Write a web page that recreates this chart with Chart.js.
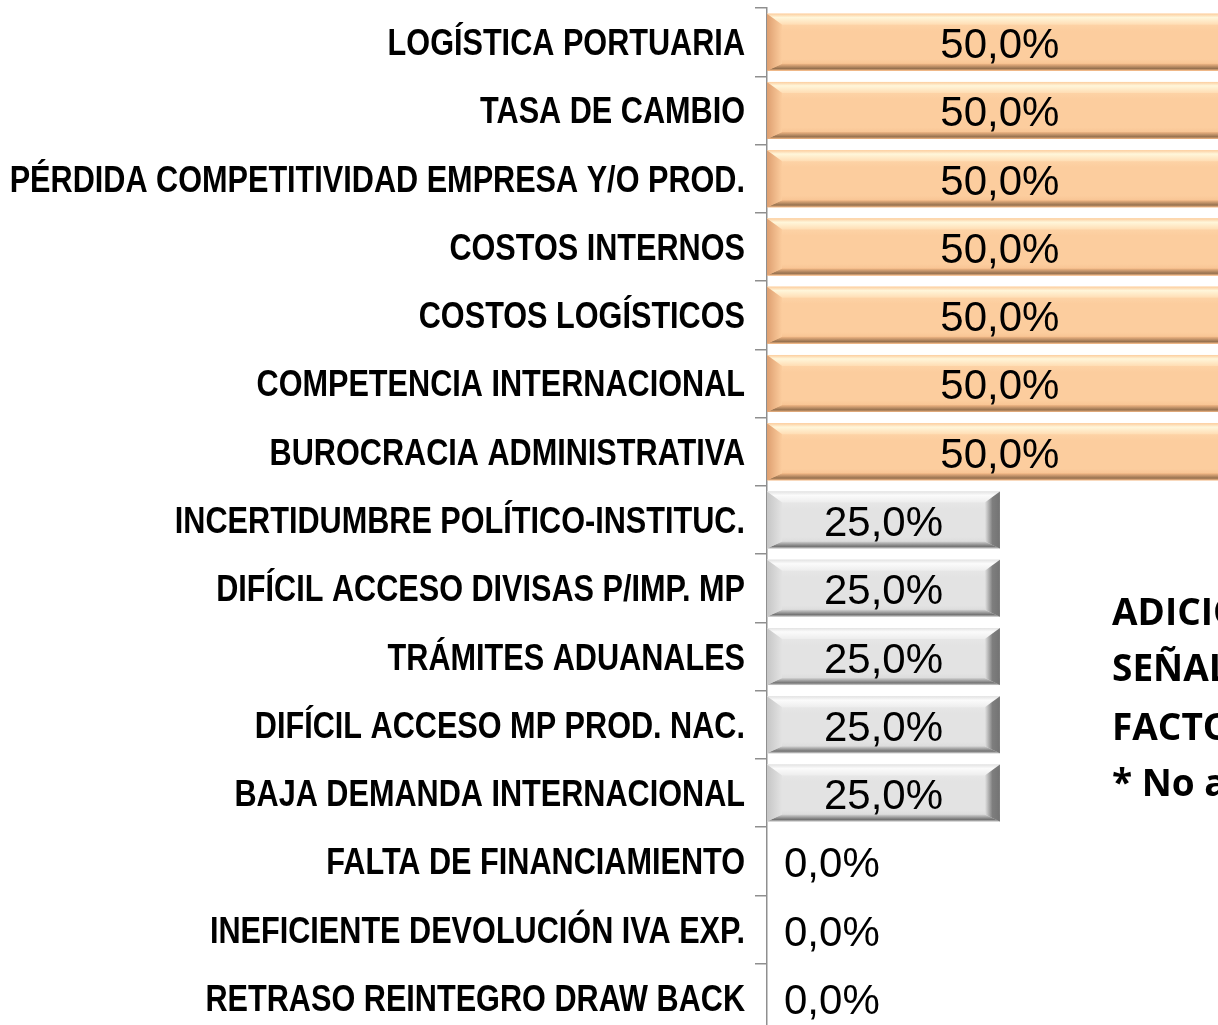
<!DOCTYPE html>
<html lang="es">
<head>
<meta charset="utf-8">
<title>Factores</title>
<script src="https://cdn.jsdelivr.net/npm/chart.js@4.4.1/dist/chart.umd.min.js"></script>
<style>
  html, body { margin: 0; padding: 0; background: #fff; overflow: hidden; width: 1218px; height: 1025px; }
  canvas { display: block; }
</style>
</head>
<body>
<canvas id="chart" width="1326" height="1040"></canvas>
<script>
// datos (de arriba hacia abajo)
const factores = [
  'LOGÍSTICA PORTUARIA',
  'TASA DE CAMBIO',
  'PÉRDIDA COMPETITIVIDAD EMPRESA Y/O PROD.',
  'COSTOS INTERNOS',
  'COSTOS LOGÍSTICOS',
  'COMPETENCIA INTERNACIONAL',
  'BUROCRACIA ADMINISTRATIVA',
  'INCERTIDUMBRE POLÍTICO-INSTITUC.',
  'DIFÍCIL ACCESO DIVISAS P/IMP. MP',
  'TRÁMITES ADUANALES',
  'DIFÍCIL ACCESO MP PROD. NAC.',
  'BAJA DEMANDA INTERNACIONAL',
  'FALTA DE FINANCIAMIENTO',
  'INEFICIENTE DEVOLUCIÓN IVA EXP.',
  'RETRASO REINTEGRO DRAW BACK'
];
const porcentajes = [50, 50, 50, 50, 50, 50, 50, 25, 25, 25, 25, 25, 0, 0, 0];
const notaLineas = ['ADICIONALMENTE,', 'SEÑALARON OTROS', 'FACTORES', '* No aplica'];

const peach = { face: '#FCCD9E', faceTop: '#FFDDB4', hi: '#FFF6DA', low: '#F2B886', bottom: '#96714F', left: '#DE9F70', right: '#B8875E' };
const grey  = { face: '#E3E3E3', faceTop: '#EDEDED', hi: '#FBFBFB', low: '#D2D2D2', bottom: '#737373', left: '#C6C6C6', right: '#7E7E7E' };
const paleta = (v) => v >= 50 ? peach : grey;

function fmtPct(v) {
  return v.toFixed(1).replace('.', ',') + '%';
}

function poly(ctx, pts, fill) {
  ctx.beginPath();
  ctx.moveTo(pts[0][0], pts[0][1]);
  for (let i = 1; i < pts.length; i++) ctx.lineTo(pts[i][0], pts[i][1]);
  ctx.closePath();
  ctx.fillStyle = fill;
  ctx.fill();
}

// bisel tipo Excel sobre cada barra
const bevelPlugin = {
  id: 'bevel',
  afterDatasetsDraw(chart) {
    const ctx = chart.ctx;
    const area = chart.chartArea;
    const meta = chart.getDatasetMeta(0);
    ctx.save();
    ctx.beginPath();
    ctx.rect(area.left, area.top, area.right - area.left, area.bottom - area.top);
    ctx.clip();
    meta.data.forEach((bar, i) => {
      const v = porcentajes[i];
      if (!v) return;
      const p = paleta(v);
      const L = Math.min(bar.base, bar.x), R = Math.max(bar.base, bar.x);
      const T = bar.y - bar.height / 2, B = bar.y + bar.height / 2;
      const bw = 15, bt = 11, bb = 7;

      let g = ctx.createLinearGradient(0, T, 0, B);
      g.addColorStop(0, p.faceTop);
      g.addColorStop(0.3, p.face);
      g.addColorStop(0.8, p.face);
      g.addColorStop(1, p.low);
      ctx.fillStyle = g;
      ctx.fillRect(L, T, R - L, B - T);

      g = ctx.createLinearGradient(0, T, 0, T + bt);
      g.addColorStop(0, p.face);
      g.addColorStop(0.35, p.hi);
      g.addColorStop(1, p.faceTop);
      poly(ctx, [[L, T], [R, T], [R - bw, T + bt], [L + bw, T + bt]], g);

      g = ctx.createLinearGradient(0, B - bb, 0, B);
      g.addColorStop(0, p.low);
      g.addColorStop(0.7, p.bottom);
      g.addColorStop(1, p.low);
      poly(ctx, [[L, B], [R, B], [R - bw, B - bb], [L + bw, B - bb]], g);

      g = ctx.createLinearGradient(L, 0, L + bw, 0);
      g.addColorStop(0, p.left);
      g.addColorStop(1, p.face);
      poly(ctx, [[L, T], [L + bw, T + bt], [L + bw, B - bb], [L, B]], g);

      g = ctx.createLinearGradient(R - bw, 0, R, 0);
      g.addColorStop(0, p.face);
      g.addColorStop(0.5, p.right);
      g.addColorStop(1, p.bottom);
      poly(ctx, [[R, T], [R - bw, T + bt], [R - bw, B - bb], [R, B]], g);
    });
    ctx.restore();
  }
};

// etiquetas de valor
const valueLabels = {
  id: 'valueLabels',
  afterDatasetsDraw(chart) {
    const ctx = chart.ctx;
    const meta = chart.getDatasetMeta(0);
    ctx.save();
    ctx.font = "42px 'Liberation Sans', Arial, sans-serif";
    ctx.fillStyle = '#000';
    ctx.textBaseline = 'alphabetic';
    meta.data.forEach((bar, i) => {
      const v = porcentajes[i];
      const txt = fmtPct(v);
      if (v > 0) {
        ctx.textAlign = 'center';
        ctx.fillText(txt, (bar.base + bar.x) / 2, bar.y + 16);
      } else {
        ctx.textAlign = 'left';
        ctx.fillText(txt, bar.base + 17, bar.y + 16);
      }
    });
    ctx.restore();
  }
};

// etiquetas de categoria en fuente estrecha (Arial Narrow simulada)
const catLabels = {
  id: 'catLabels',
  afterDraw(chart) {
    const ctx = chart.ctx;
    const y = chart.scales.y;
    ctx.save();
    ctx.font = "bold 37px 'Liberation Sans', Arial, sans-serif";
    ctx.fillStyle = '#000';
    ctx.textAlign = 'right';
    ctx.textBaseline = 'alphabetic';
    y.ticks.forEach((t, i) => {
      const py = y.getPixelForTick(i);
      ctx.save();
      ctx.translate(y.right - 22, py + 13);
      ctx.scale(0.828, 1);
      ctx.fillText(factores[t.value], 0, 0);
      ctx.restore();
    });
    ctx.restore();
  }
};

// cuadro de texto a la derecha
const notaPlugin = {
  id: 'nota',
  afterDraw(chart) {
    const ctx = chart.ctx;
    ctx.save();
    ctx.font = "bold 37px 'Open Sans', 'Noto Sans', sans-serif";
    ctx.fillStyle = '#000';
    ctx.textAlign = 'left';
    ctx.textBaseline = 'alphabetic';
    const ys = [625, 681, 740, 796];
    notaLineas.forEach((t, i) => ctx.fillText(t, 1112, ys[i]));
    ctx.restore();
  }
};

new Chart(document.getElementById('chart'), {
  type: 'bar',
  data: {
    labels: factores,
    datasets: [{
      data: porcentajes,
      backgroundColor: (c) => paleta(porcentajes[c.dataIndex] || 0).face,
      borderWidth: 0,
      barPercentage: 0.835,
      categoryPercentage: 1
    }]
  },
  options: {
    indexAxis: 'y',
    responsive: false,
    animation: false,
    devicePixelRatio: 1,
    layout: { padding: { top: 8, bottom: 8, left: 0, right: 0 } },
    plugins: { legend: { display: false }, tooltip: { enabled: false } },
    scales: {
      x: { display: false, min: 0, max: 60 },
      y: {
        afterFit: (scale) => { scale.width = 767; scale.paddingTop = 0; scale.paddingBottom = 0; },
        border: { display: true, color: '#8f8f8f', width: 1.5 },
        grid: { drawOnChartArea: false, tickLength: 12, color: '#8f8f8f', lineWidth: 1.5 },
        ticks: { display: false }
      }
    }
  },
  plugins: [bevelPlugin, valueLabels, catLabels, notaPlugin]
});
</script>
</body>
</html>
